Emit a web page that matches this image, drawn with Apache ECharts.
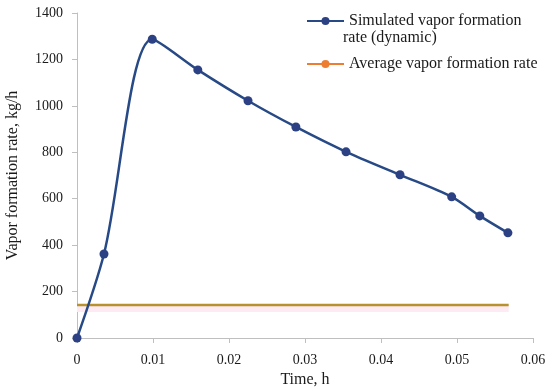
<!DOCTYPE html>
<html>
<head>
<meta charset="utf-8">
<script src="https://cdn.jsdelivr.net/npm/echarts@6/dist/echarts.min.js"></script>
<style>html,body{margin:0;padding:0;background:#fff}#c{width:550px;height:392px}</style>
</head>
<body>
<div id="c"></div>
<script>
const timeH = [0, 0.00355, 0.0099, 0.0159, 0.0225, 0.0288, 0.0354, 0.0425, 0.0493, 0.0530, 0.0567];
const simulatedRate = [0, 362, 1287, 1155, 1022, 909, 802, 703, 608, 526, 453];
const avgTime = [0, 0.0568];
const avgRate = [142, 142];
const bandRate = [112, 142];
const xTicks = [0, 0.01, 0.02, 0.03, 0.04, 0.05, 0.06];
const yTicks = [0, 200, 400, 600, 800, 1000, 1200, 1400];

const FONT = '"Liberation Serif", "DejaVu Serif", serif';
const chart = echarts.init(document.getElementById('c'));
const simName = 'Simulated vapor formation rate (dynamic)';
const avgName = 'Average vapor formation rate';
chart.setOption({
  animation: false,
  textStyle: {fontFamily: FONT, color: '#1a1a1a'},
  grid: {left: 77, right: 17, top: 13, bottom: 54, outerBoundsMode: 'none', containLabel: false},
  legend: [
    {left: 301, top: 8, itemWidth: 37, itemHeight: 10,
     data: [simName],
     formatter: () => 'Simulated vapor formation',
     textStyle: {fontFamily: FONT, fontSize: 16, color: '#1a1a1a'}},
    {left: 301, top: 51, itemWidth: 37, itemHeight: 10,
     data: [{name: avgName, itemStyle: {color: '#ED7D31'}, lineStyle: {color: '#ED7D31', width: 2}}],
     textStyle: {fontFamily: FONT, fontSize: 16, color: '#1a1a1a'}}
  ],
  graphic: [
    {type: 'text', left: 343, top: 30,
     style: {text: 'rate (dynamic)', font: '16px ' + FONT, fill: '#1a1a1a'}}
  ],
  xAxis: {
    type: 'value', min: xTicks[0], max: xTicks[xTicks.length - 1], interval: 0.01,
    name: 'Time, h', nameLocation: 'middle', nameGap: 33,
    nameTextStyle: {fontFamily: FONT, fontSize: 16, color: '#1a1a1a'},
    axisLine: {show: true, lineStyle: {color: '#BFBFBF', width: 1}},
    axisTick: {show: true, length: 5, lineStyle: {color: '#BFBFBF'}},
    axisLabel: {fontFamily: FONT, fontSize: 14, color: '#1a1a1a', margin: 15,
      formatter: v => String(+v.toFixed(2))},
    splitLine: {show: false}
  },
  yAxis: {
    type: 'value', min: yTicks[0], max: yTicks[yTicks.length - 1], interval: 200,
    name: 'Vapor formation rate, kg/h', nameLocation: 'middle', nameGap: 56,
    nameTextStyle: {fontFamily: FONT, fontSize: 16, color: '#1a1a1a'},
    axisLine: {show: true, lineStyle: {color: '#BFBFBF', width: 1}},
    axisTick: {show: true, length: 5, lineStyle: {color: '#BFBFBF'}},
    axisLabel: {fontFamily: FONT, fontSize: 14, color: '#1a1a1a', margin: 14,
      formatter: v => String(v)},
    splitLine: {show: false}
  },
  series: [
    {
      name: avgName, type: 'line', symbol: 'none', z: 2,
      data: avgTime.map((t, i) => [t, avgRate[i]]),
      itemStyle: {color: '#ED7D31'},
      lineStyle: {color: '#B8922E', width: 2.5},
      markArea: {silent: true, itemStyle: {color: '#FDEAF3'},
        data: [[{coord: [avgTime[0], bandRate[0]]}, {coord: [avgTime[1], bandRate[1]]}]]}
    },
    {
      name: simName, type: 'line', smooth: 0.3, z: 3,
      data: timeH.map((t, i) => [t, simulatedRate[i]]),
      symbol: 'circle', symbolSize: 9,
      itemStyle: {color: '#2B4183'},
      lineStyle: {color: '#274A86', width: 2.5}
    }
  ]
});
</script>
</body>
</html>
